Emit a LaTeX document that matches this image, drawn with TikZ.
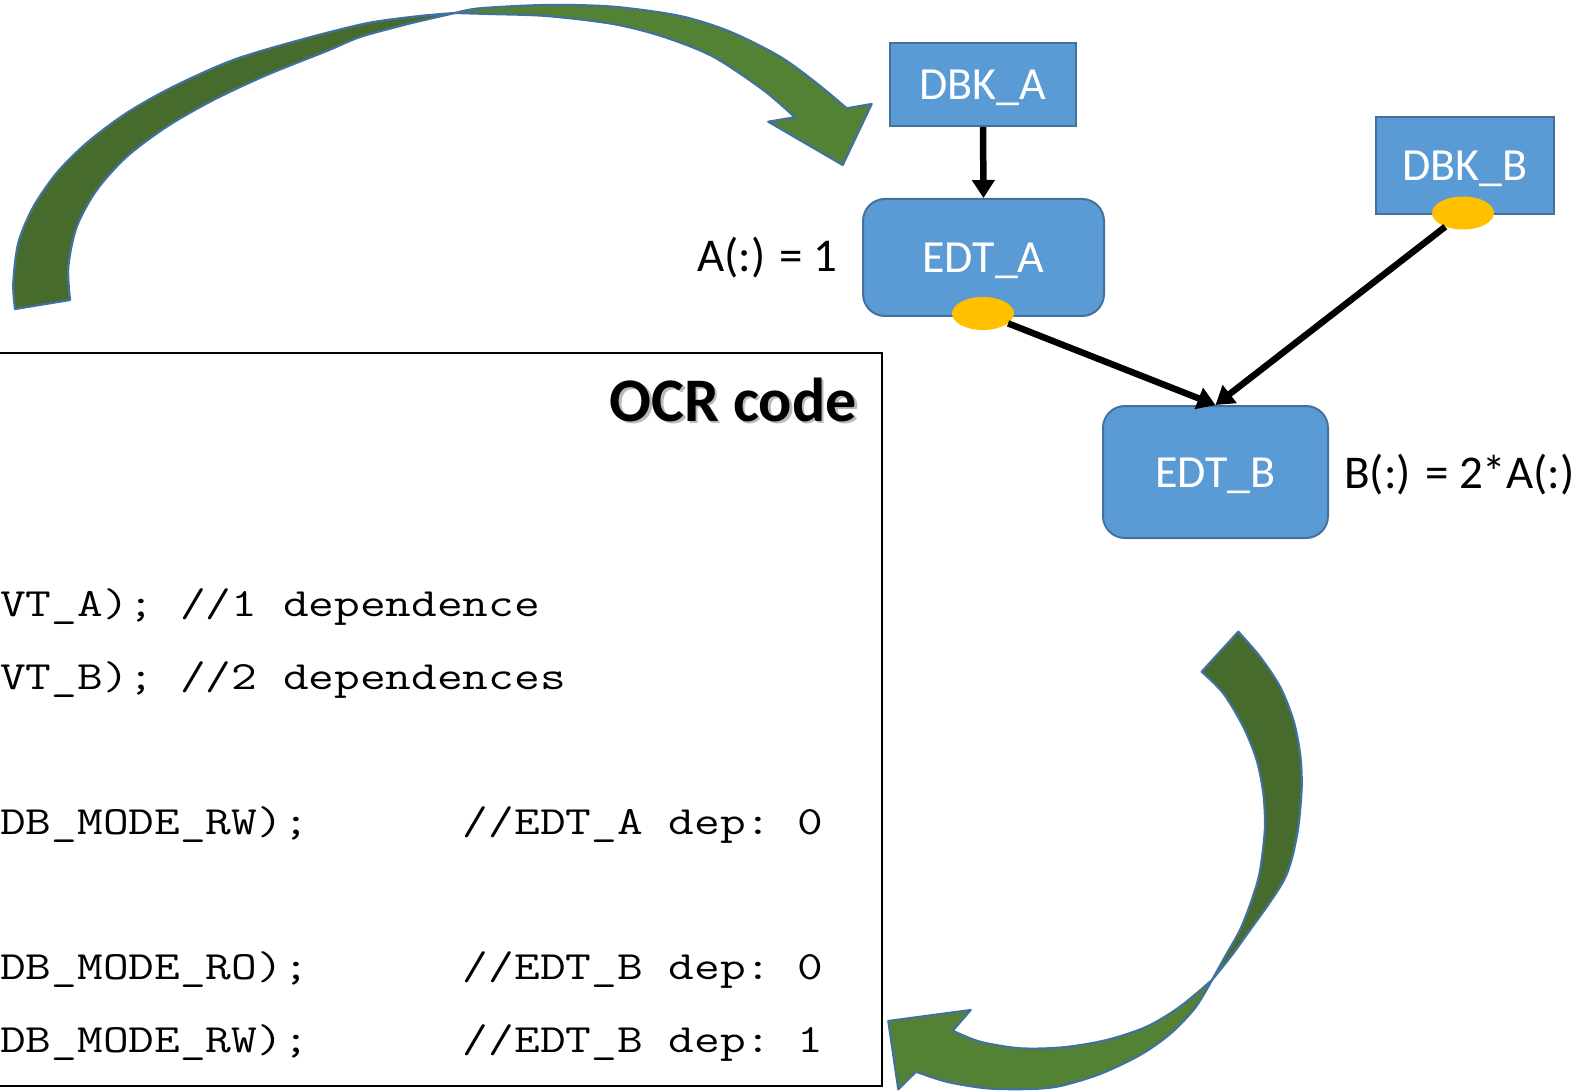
\documentclass[tikz,border=0pt]{standalone}
\usepackage{fontspec}
\usepackage{graphicx}
\setmainfont{Carlito}
\usetikzlibrary{arrows.meta,shapes.geometric}
\definecolor{boxfill}{HTML}{5B9BD5}
\definecolor{boxline}{HTML}{41719C}
\definecolor{dotfill}{HTML}{FFC000}
\definecolor{bandback}{HTML}{476A2D}
\definecolor{bandfront}{HTML}{548235}
\definecolor{bandline}{HTML}{41719C}
\begin{document}
\begin{tikzpicture}[x=1pt,y=-1pt,
  dbk/.style={rectangle, draw=boxline, fill=boxfill, line width=2pt, text=white,
    font=\fontsize{46}{50}\selectfont, inner sep=0pt, text height=30pt, text depth=0pt},
  edt/.style={dbk, rounded corners=22pt},
  dot/.style={ellipse, fill=dotfill, minimum width=62pt, minimum height=33pt, inner sep=0pt},
  conn/.style={line width=6.5pt, -{Triangle[length=18pt,width=22pt]}},
  band/.style={draw=bandline, line width=2.2pt, line join=round},
  label/.style={font=\fontsize{47}{50}\selectfont, inner sep=0pt, anchor=base west},
  code/.style={font=\fontsize{40.1}{44}\selectfont\ttfamily, inner sep=0pt, anchor=base west},
  title/.style={font=\fontsize{62}{62}\selectfont\bfseries, inner sep=0pt, anchor=base east},
]
\useasboundingbox (0,0) rectangle (1583,1091);

% curved arrow at the top (back face, then front face with head)
\path[band, fill=bandback] (15,309) -- plot[smooth] coordinates {(15,309) (13.3,283) (18.3,243) (33.3,207) (56.7,173) (86.7,143) (126.7,113) (173.3,86.7) (233.3,60) (300,40) (366.7,23.3) (420,16) (455,13)}
  -- plot[smooth] coordinates {(455,13) (420,21) (400,26) (360,37) (326.7,51) (266.7,75) (213.3,100) (166.7,126.7) (126.7,156.7) (96.7,190) (76.7,226.7) (68.3,266.7) (70,300)} -- cycle;
\path[band, fill=bandfront] plot[smooth] coordinates {(455,13) (480,8.3) (546.7,5) (613,6.7) (680,16) (730,31.7) (780,56.7) (816.7,83.3) (846.7,108.3)}
  -- (871.7,104) -- (842.7,165) -- (768.3,121.7) -- (795,117.3)
  -- plot[smooth] coordinates {(795,117.3) (763.3,90) (713.3,56.7) (663.3,36.7) (613.3,24) (546.7,16) (490,14) (455,13)} -- cycle;

% curved arrow at the bottom right
\path[band, fill=bandback] (1201.7,671.7) -- (1238.3,631.7) -- plot[smooth] coordinates {(1238.3,631.7) (1260,656.7) (1280,686.7) (1293.3,720) (1300,753.3) (1301.7,786.7) (1298.3,826.7) (1292,858) (1284,880) (1268,905) (1250,930) (1232,955) (1212,980)}
  -- plot[smooth] coordinates {(1212,980) (1226,955) (1240,930) (1250,905) (1258,880) (1261.7,860) (1265,826.7) (1263.3,793.3) (1256.7,760) (1243.3,726.7) (1223.3,693.3) (1201.7,671.7)} -- cycle;
\path[band, fill=bandfront] plot[smooth] coordinates {(1212,980) (1195,1008) (1170,1034) (1140,1055) (1100,1074) (1060,1086) (1030,1089) (986.7,1088.3) (946.7,1081.7) (916,1071.7)}
  -- (898.3,1089.3) -- (888.3,1021) -- (970.7,1010) -- (952.7,1030.7)
  -- plot[smooth] coordinates {(952.7,1030.7) (980,1041.7) (1020,1048.3) (1063.3,1047.3) (1106.7,1040) (1146.7,1026.7) (1180,1006.7) (1212,980)} -- cycle;

% code panel
\node[draw=black, line width=2pt, minimum width=903pt, minimum height=733pt, inner sep=0pt, anchor=north east] (codebox) at (883,352) {};
\node[title, text=black!45, opacity=0.6] (titleshadow) at (859.5,423.5) {OCR code};
\node[title] (titletext) at (857,421) {OCR code};
\node[code] (c1) at (0,616) {\scalebox{1.245}[1]{VT\_A);\ //1\ dependence}};
\node[code] (c2) at (0,689) {\scalebox{1.245}[1]{VT\_B);\ //2\ dependences}};
\node[code] (c3) at (0,834) {\scalebox{1.245}[1]{DB\_MODE\_RW);\ \ \ \ \ \ //EDT\_A\ dep:\ 0}};
\node[code] (c4) at (0,979) {\scalebox{1.245}[1]{DB\_MODE\_RO);\ \ \ \ \ \ //EDT\_B\ dep:\ 0}};
\node[code] (c5) at (0,1052) {\scalebox{1.245}[1]{DB\_MODE\_RW);\ \ \ \ \ \ //EDT\_B\ dep:\ 1}};

% data blocks and tasks
\node[dbk, minimum width=186pt, minimum height=83pt] (dbka) at (983,84.5) {DBK\_A};
\node[dbk, minimum width=178pt, minimum height=97pt] (dbkb) at (1465,165.5) {DBK\_B};
\node[edt, minimum width=241pt, minimum height=117pt] (edta) at (983.5,257.5) {EDT\_A};
\node[edt, minimum width=225pt, minimum height=132pt] (edtb) at (1215.5,472) {EDT\_B};
\node[dot] (ya) at (983,313.5) {};
\node[dot] (yb) at (1463,213) {};
\node[label] (lbla) at (697,272) {A(:) = 1};
\node[label] (lblb) at (1344,488) {B(:) = 2*A(:)};

% dependences
\draw[conn] (dbka.south) -- (edta.north);
\draw[conn] (ya) -- (edtb.north);
\draw[conn] (yb) -- (edtb.north);
\end{tikzpicture}
\end{document}
